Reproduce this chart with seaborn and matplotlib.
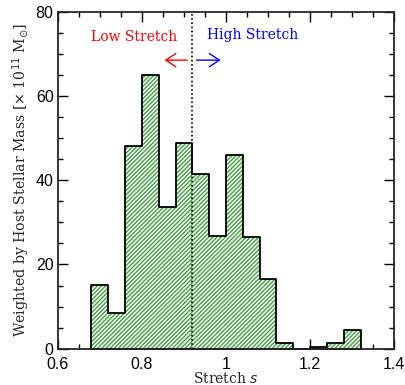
import numpy as np
import matplotlib
matplotlib.use("Agg")
import matplotlib.pyplot as plt
import seaborn as sns

# histogram of SN stretch weighted by host stellar mass
bin_edges = [0.68, 0.72, 0.76, 0.80, 0.84, 0.88, 0.92, 0.96, 1.00,
             1.04, 1.08, 1.12, 1.16, 1.20, 1.24, 1.28, 1.32]
weights = [15.1, 8.4, 48.1, 64.9, 33.7, 48.9, 41.4, 26.8, 45.9,
           26.6, 16.5, 1.4, 0.0, 0.5, 1.4, 4.5]
bin_centers = [(a + b) / 2 for a, b in zip(bin_edges[:-1], bin_edges[1:])]
split = 0.92

sns.set_style("ticks")
plt.rcParams["hatch.linewidth"] = 1.0

fig = plt.figure(figsize=(4.05, 3.85), dpi=100)
ax = fig.add_axes([0.1425, 0.0943, 0.8311, 0.8753])

# hatched fill
sns.histplot(x=bin_centers, weights=weights, bins=bin_edges, element="step",
             fill=True, ax=ax, facecolor="white", edgecolor="#40a040",
             linewidth=0, hatch="////////", alpha=1)
# black outline
sns.histplot(x=bin_centers, weights=weights, bins=bin_edges, element="step",
             fill=True, ax=ax, color="black", facecolor=(1, 1, 1, 0),
             edgecolor="black", linewidth=1.3)

ax.axvline(split, color="black", linestyle=(0, (1, 1.5)), linewidth=1.2)

arrow_style = "->, head_length=0.45, head_width=0.3"
ax.annotate("", xy=(0.854, 68.5), xytext=(0.908, 68.5),
            arrowprops=dict(arrowstyle=arrow_style, color="red", lw=1.0,
                            mutation_scale=16, shrinkA=0, shrinkB=0))
ax.annotate("", xy=(0.987, 68.5), xytext=(0.930, 68.5),
            arrowprops=dict(arrowstyle=arrow_style, color="blue", lw=1.0,
                            mutation_scale=16, shrinkA=0, shrinkB=0))
ax.text(0.782, 74.1, "Low Stretch", color="red", ha="center", va="center",
        family="DejaVu Serif", fontsize=10)
ax.text(1.064, 74.5, "High Stretch", color="blue", ha="center", va="center",
        family="DejaVu Serif", fontsize=10)

ax.set_xlim(0.6, 1.4)
ax.set_ylim(0, 80)
ax.set_xticks([0.6, 0.8, 1.0, 1.2, 1.4])
ax.set_xticklabels(["0.6", "0.8", "1", "1.2", "1.4"])
ax.set_xticks(np.arange(0.6, 1.401, 0.05), minor=True)
ax.set_yticks([0, 20, 40, 60, 80])
ax.set_yticks(np.arange(0, 81, 5), minor=True)
ax.tick_params(which="both", direction="in", top=True, right=True,
               labelsize=11.5, width=1.0, colors="black")
ax.tick_params(which="major", length=7)
ax.tick_params(which="minor", length=3.5)
ax.tick_params(axis="y", pad=3)
ax.tick_params(axis="x", pad=6)
for lab in ax.get_xticklabels() + ax.get_yticklabels():
    lab.set_family("Liberation Sans")
for s in ax.spines.values():
    s.set_linewidth(1.3)
    s.set_visible(True)

ax.set_xlabel("Stretch $s$", family="DejaVu Serif", fontsize=10, labelpad=-1)
ax.set_ylabel(r"Weighted by Host Stellar Mass [$\times$ 10$^{11}$ M$_{\odot}$]",
              family="DejaVu Serif", fontsize=10.2, labelpad=3)

fig.savefig("out.png", dpi=100)
